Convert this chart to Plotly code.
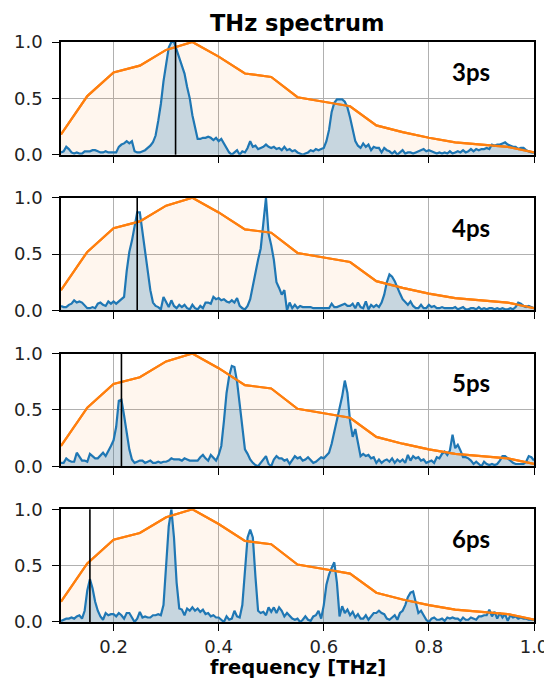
import numpy as np
import plotly.graph_objects as go

# ---------------- data ----------------
freq_start = 0.1
freq_step = 0.005

delays = ["3ps", "4ps", "5ps", "6ps"]
marker_freq = [0.318, 0.245, 0.215, 0.155]

spec_3ps = [
    0.02, 0.03, 0.07, 0.05, 0.02, 0.01, 0.02, 0.01, 0.01, 0.03,
    0.03, 0.03, 0.04, 0.04, 0.03, 0.02, 0.02, 0.03, 0.02, 0.02,
    0.02, 0.02, 0.07, 0.09, 0.10, 0.12, 0.10, 0.12, 0.03, 0.02,
    0.02, 0.03, 0.04, 0.06, 0.08, 0.11, 0.17, 0.30, 0.45, 0.65,
    0.80, 0.95, 1.00, 1.00, 0.93, 0.86, 0.78, 0.72, 0.60, 0.50,
    0.35, 0.25, 0.14, 0.14, 0.15, 0.15, 0.16, 0.15, 0.13, 0.15,
    0.12, 0.14, 0.10, 0.05, 0.02, 0.00, 0.02, 0.04, 0.00, 0.03,
    0.02, 0.06, 0.12, 0.07, 0.08, 0.05, 0.06, 0.07, 0.09, 0.07,
    0.06, 0.07, 0.05, 0.06, 0.04, 0.07, 0.04, 0.05, 0.03, 0.04,
    0.02, 0.01, 0.00, 0.01, 0.02, 0.04, 0.03, 0.05, 0.04, 0.05,
    0.06, 0.12, 0.22, 0.38, 0.46, 0.49, 0.49, 0.49, 0.47, 0.42,
    0.33, 0.22, 0.12, 0.08, 0.06, 0.10, 0.07, 0.09, 0.04, 0.07,
    0.06, 0.06, 0.02, 0.06, 0.04, 0.03, 0.01, 0.03, 0.00, 0.02,
    0.04, 0.01, 0.02, 0.02, 0.01, 0.02, 0.03, 0.04, 0.05, 0.03,
    0.04, 0.03, 0.02, 0.01, 0.02, 0.01, 0.02, 0.01, 0.03, 0.01,
    0.02, 0.03, 0.02, 0.04, 0.02, 0.03, 0.05, 0.03, 0.05, 0.04,
    0.05, 0.05, 0.06, 0.05, 0.09, 0.08, 0.09, 0.09, 0.10, 0.11,
    0.09, 0.08, 0.07, 0.07, 0.05, 0.06, 0.06, 0.04, 0.03, 0.02,
    0.02,
]

spec_4ps = [
    0.04, 0.03, 0.03, 0.05, 0.06, 0.09, 0.07, 0.08, 0.07, 0.04,
    0.02, 0.02, 0.03, 0.02, 0.06, 0.07, 0.05, 0.04, 0.08, 0.06,
    0.08, 0.06, 0.08, 0.10, 0.12, 0.35, 0.52, 0.62, 0.75, 0.87,
    0.87, 0.70, 0.50, 0.35, 0.18, 0.07, 0.04, 0.03, 0.01, 0.12,
    0.07, 0.03, 0.09, 0.04, 0.02, 0.05, 0.03, 0.05, 0.02, 0.01,
    0.05, 0.02, 0.01, 0.04, 0.02, 0.07, 0.07, 0.06, 0.12, 0.10,
    0.11, 0.09, 0.10, 0.08, 0.07, 0.09, 0.07, 0.11, 0.04, 0.02,
    0.01, 0.04, 0.10, 0.22, 0.35, 0.45, 0.55, 0.75, 1.00, 0.68,
    0.58, 0.45, 0.25, 0.20, 0.14, 0.18, 0.00, 0.07, 0.02, 0.05,
    0.02, 0.04, 0.03, 0.03, 0.03, 0.03, 0.02, 0.02, 0.02, 0.02,
    0.02, 0.02, 0.02, 0.06, 0.03, 0.03, 0.04, 0.05, 0.06, 0.04,
    0.04, 0.06, 0.02, 0.07, 0.03, 0.02, 0.08, 0.01, 0.05, 0.03,
    0.05, 0.03, 0.07, 0.14, 0.25, 0.32, 0.30, 0.26, 0.20, 0.15,
    0.10, 0.07, 0.05, 0.08, 0.04, 0.02, 0.02, 0.05, 0.02, 0.02,
    0.05, 0.03, 0.04, 0.02, 0.02, 0.03, 0.02, 0.02, 0.02, 0.02,
    0.03, 0.01, 0.02, 0.03, 0.01, 0.01, 0.02, 0.02, 0.01, 0.03,
    0.01, 0.02, 0.01, 0.02, 0.02, 0.01, 0.02, 0.01, 0.02, 0.01,
    0.01, 0.02, 0.01, 0.03, 0.07, 0.06, 0.04, 0.03, 0.04, 0.03,
    0.02,
]

spec_5ps = [
    0.03, 0.03, 0.07, 0.05, 0.04, 0.04, 0.12, 0.08, 0.05, 0.05,
    0.04, 0.11, 0.09, 0.07, 0.07, 0.10, 0.12, 0.09, 0.13, 0.18,
    0.23, 0.35, 0.58, 0.59, 0.45, 0.30, 0.15, 0.06, 0.03, 0.04,
    0.05, 0.05, 0.03, 0.04, 0.05, 0.03, 0.03, 0.04, 0.03, 0.04,
    0.04, 0.05, 0.07, 0.06, 0.06, 0.06, 0.05, 0.07, 0.06, 0.05,
    0.05, 0.05, 0.05, 0.08, 0.10, 0.07, 0.05, 0.10, 0.07, 0.05,
    0.10, 0.18, 0.40, 0.65, 0.80, 0.89, 0.88, 0.75, 0.55, 0.35,
    0.15, 0.11, 0.06, 0.03, 0.01, 0.00, 0.03, 0.05, 0.09, 0.02,
    0.00, 0.06, 0.09, 0.07, 0.07, 0.05, 0.06, 0.02, 0.05, 0.09,
    0.07, 0.08, 0.05, 0.06, 0.08, 0.05, 0.03, 0.04, 0.06, 0.08,
    0.07, 0.10, 0.12, 0.20, 0.30, 0.42, 0.50, 0.62, 0.76, 0.65,
    0.40, 0.26, 0.33, 0.20, 0.09, 0.11, 0.09, 0.10, 0.07, 0.08,
    0.03, 0.06, 0.03, 0.05, 0.06, 0.04, 0.07, 0.03, 0.06, 0.04,
    0.06, 0.03, 0.10, 0.05, 0.09, 0.07, 0.08, 0.05, 0.06, 0.03,
    0.04, 0.05, 0.03, 0.08, 0.07, 0.11, 0.13, 0.10, 0.14, 0.28,
    0.16, 0.19, 0.14, 0.08, 0.08, 0.07, 0.05, 0.02, 0.04, 0.02,
    0.00, 0.04, 0.02, 0.01, 0.02, 0.01, 0.02, 0.05, 0.09, 0.09,
    0.07, 0.05, 0.03, 0.02, 0.02, 0.02, 0.02, 0.04, 0.09, 0.08,
    0.05,
]

spec_6ps = [
    0.01, 0.02, 0.03, 0.03, 0.04, 0.03, 0.05, 0.06, 0.03, 0.10,
    0.28, 0.38, 0.30, 0.18, 0.10, 0.05, 0.02, 0.08, 0.06, 0.07,
    0.07, 0.05, 0.08, 0.06, 0.03, 0.08, 0.08, 0.04, 0.00, 0.03,
    0.09, 0.04, 0.05, 0.04, 0.04, 0.06, 0.06, 0.07, 0.06, 0.15,
    0.50, 0.85, 1.00, 0.75, 0.35, 0.12, 0.11, 0.06, 0.12, 0.10,
    0.13, 0.10, 0.12, 0.09, 0.11, 0.07, 0.08, 0.05, 0.06, 0.04,
    0.04, 0.02, 0.00, 0.05, 0.02, 0.03, 0.10, 0.05, 0.04, 0.15,
    0.45, 0.75, 0.82, 0.75, 0.40, 0.10, 0.08, 0.09, 0.06, 0.13,
    0.09, 0.13, 0.08, 0.13, 0.10, 0.05, 0.08, 0.05, 0.03, 0.02,
    0.03, 0.00, 0.02, 0.05, 0.02, 0.01, 0.05, 0.06, 0.10, 0.03,
    0.15, 0.33, 0.42, 0.48, 0.53, 0.35, 0.05, 0.14, 0.08, 0.11,
    0.06, 0.09, 0.04, 0.07, 0.03, 0.03, 0.06, 0.02, 0.05, 0.08,
    0.08, 0.10, 0.08, 0.07, 0.03, 0.02, 0.04, 0.06, 0.02, 0.08,
    0.10, 0.15, 0.22, 0.26, 0.27, 0.18, 0.08, 0.10, 0.06, 0.02,
    0.00, 0.03, 0.04, 0.02, 0.02, 0.03, 0.01, 0.04, 0.03, 0.04,
    0.03, 0.03, 0.01, 0.04, 0.02, 0.02, 0.04, 0.03, 0.02, 0.05,
    0.05, 0.06, 0.06, 0.11, 0.05, 0.09, 0.03, 0.08, 0.04, 0.07,
    0.01, 0.06, 0.04, 0.05, 0.03, 0.04, 0.03, 0.03, 0.02, 0.02,
    0.02,
]

source_freq = [0.10, 0.15, 0.20, 0.25, 0.30, 0.35, 0.40, 0.45, 0.50, 0.55,
               0.60, 0.65, 0.70, 0.75, 0.80, 0.85, 0.90, 0.95, 1.00]
source_spec = [0.18, 0.52, 0.73, 0.79, 0.93, 1.00, 0.87, 0.72, 0.69, 0.51,
               0.47, 0.43, 0.26, 0.20, 0.15, 0.11, 0.09, 0.07, 0.02]

x_ticks = [0.2, 0.4, 0.6, 0.8, 1.0]
x_tick_labels = ["0.2", "0.4", "0.6", "0.8", "1.0"]
y_ticks = [0.0, 0.5, 1.0]
y_tick_labels = ["0.0", "0.5", "1.0"]

spectra = [spec_3ps, spec_4ps, spec_5ps, spec_6ps]

# ---------------- figure ----------------
# the page body adds an 8 px offset; sizes chosen so the plot lands where the reference has it
W, H = 544, 675
mt, mb, ml, mr = 34, 61, 53, 18
PH = H - mt - mb

BLUE = "#1f77b4"
ORANGE = "#ff7f0e"

fig = go.Figure()

ph = 0.1943
gap = (1 - 4 * ph) / 3
domains = []
for i in range(4):
    top = 1 - i * (ph + gap)
    domains.append([max(0.0, top - ph), min(1.0, top)])

for i, (lab, spec) in enumerate(zip(delays, spectra)):
    freq = np.round(freq_start + freq_step * np.arange(len(spec)), 4)
    xa = "x" if i == 0 else f"x{i+1}"
    ya = "y" if i == 0 else f"y{i+1}"
    fig.add_trace(go.Scatter(
        x=source_freq, y=source_spec, mode="lines",
        line=dict(color=ORANGE, width=2.2),
        fill="tozeroy", fillcolor="rgba(255,127,14,0.07)",
        xaxis=xa, yaxis=ya, showlegend=False, hoverinfo="skip"))
    fig.add_trace(go.Scatter(
        x=freq, y=spec, mode="lines",
        line=dict(color=BLUE, width=2.2),
        fill="tozeroy", fillcolor="rgba(31,119,180,0.25)",
        xaxis=xa, yaxis=ya, showlegend=False, hoverinfo="skip"))
    fig.add_trace(go.Scatter(
        x=source_freq, y=source_spec, mode="lines",
        line=dict(color=ORANGE, width=2.2),
        xaxis=xa, yaxis=ya, showlegend=False, hoverinfo="skip"))

    axis_common = dict(
        showline=True, linecolor="black", linewidth=1.5, mirror=True,
        ticks="outside", ticklen=7, tickwidth=1.3, tickcolor="black",
        showgrid=True, gridcolor="#b0b0b0", gridwidth=1, zeroline=False,
        tickfont=dict(family="DejaVu Sans", size=18, color="#222"),
        automargin=False,
    )
    xkw = dict(axis_common, range=[0.1, 1.0], tickvals=x_ticks,
               ticktext=x_tick_labels, showticklabels=(i == 3),
               anchor=ya, ticklabelstandoff=1)
    if i > 0:
        xkw["matches"] = "x"
    ykw = dict(axis_common, range=[0, 1.0], tickvals=y_ticks,
               ticktext=y_tick_labels, domain=domains[i], anchor=xa,
               ticklabelstandoff=6)
    fig.update_layout(**{("xaxis" if i == 0 else f"xaxis{i+1}"): xkw,
                         ("yaxis" if i == 0 else f"yaxis{i+1}"): ykw})

    fig.add_shape(type="line", x0=marker_freq[i], x1=marker_freq[i],
                  y0=0, y1=1, xref=xa, yref=f"{ya} domain",
                  line=dict(color="black", width=1.6), layer="above")
    fig.add_annotation(x=0.88, y=0.74, xref=xa, yref=f"{ya} domain",
                       text=f"<b>{lab}</b>", showarrow=False,
                       font=dict(family="Lato", size=24, color="black"),
                       xanchor="center", yanchor="middle")

fig.add_annotation(x=0.5, y=1 + 19 / PH, xref="paper", yref="paper",
                   text="<b>THz spectrum</b>", showarrow=False,
                   font=dict(family="DejaVu Sans", size=22.5, color="black"),
                   xanchor="center", yanchor="middle")
fig.add_annotation(x=0.5, y=-45 / PH, xref="paper", yref="paper",
                   text="<b>frequency [THz]</b>", showarrow=False,
                   font=dict(family="DejaVu Sans", size=19.5, color="black"),
                   xanchor="center", yanchor="middle")

fig.update_layout(width=W, height=H,
                  margin=dict(l=ml, r=mr, t=mt, b=mb, pad=0),
                  paper_bgcolor="white", plot_bgcolor="white")

fig.write_html("out.html")
